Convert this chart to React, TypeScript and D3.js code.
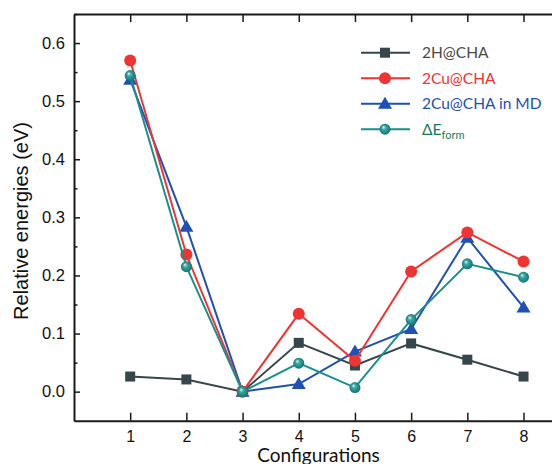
import React, { useEffect, useRef } from 'react';
import * as d3 from 'd3';

const configs = [1, 2, 3, 4, 5, 6, 7, 8];
const h2Cha = [0.026, 0.021, 0.0, 0.084, 0.045, 0.083, 0.055, 0.026];
const cu2Cha = [0.570, 0.236, 0.0, 0.134, 0.053, 0.207, 0.274, 0.224];
const cu2ChaMd = [0.537, 0.284, 0.0, 0.013, 0.069, 0.108, 0.265, 0.145];
const dEform = [0.544, 0.215, 0.0, 0.049, 0.007, 0.124, 0.220, 0.197];
const yTicks = [0.0, 0.1, 0.2, 0.3, 0.4, 0.5, 0.6];

const W = 552;
const H = 464;

const App = () => {
  const ref = useRef<SVGSVGElement>(null);

  useEffect(() => {
    const svg = d3.select(ref.current);
    svg.selectAll('*').remove();

    // scales (right edge of the frame is cut off in the original)
    const x = d3.scaleLinear().domain([0, 9]).range([74, 74 + 9 * 56.19]);
    const y = d3.scaleLinear().domain([-0.05, 0.65]).range([420.7, 14]);

    const defs = svg.append('defs');
    const grad = defs.append('radialGradient')
      .attr('id', 'sphere')
      .attr('cx', '50%').attr('cy', '50%').attr('r', '55%')
      .attr('fx', '35%').attr('fy', '30%');
    grad.append('stop').attr('offset', '0%').attr('stop-color', '#e8f6f5');
    grad.append('stop').attr('offset', '35%').attr('stop-color', '#3aa7a2');
    grad.append('stop').attr('offset', '100%').attr('stop-color', '#0d6f6b');

    const series = [
      { name: '2H@CHA', values: h2Cha, color: '#37464a', text: '#4a4a4a', marker: 'square' },
      { name: '2Cu@CHA in MD', values: cu2ChaMd, color: '#1f50b5', text: '#1f50b5', marker: 'triangle' },
      { name: '2Cu@CHA', values: cu2Cha, color: '#f03333', text: '#f03333', marker: 'circle' },
      { name: 'dE', values: dEform, color: '#17918b', text: '#177a5e', marker: 'sphere' },
    ];

    const drawMarker = (g, type, color, cx, cy) => {
      if (type === 'square') {
        g.append('rect')
          .attr('x', cx - 5).attr('y', cy - 5)
          .attr('width', 10).attr('height', 10)
          .attr('fill', color);
      } else if (type === 'triangle') {
        g.append('path')
          .attr('d', `M${cx},${cy - 7} L${cx + 7},${cy + 5} L${cx - 7},${cy + 5} Z`)
          .attr('fill', color);
      } else if (type === 'circle') {
        g.append('circle').attr('cx', cx).attr('cy', cy).attr('r', 6).attr('fill', color);
      } else {
        g.append('circle').attr('cx', cx).attr('cy', cy).attr('r', 5.5).attr('fill', 'url(#sphere)');
      }
    };

    const line = d3.line<number>()
      .x((d, i) => x(configs[i]))
      .y(d => y(d));

    series.forEach(s => {
      const g = svg.append('g');
      g.append('path')
        .attr('d', line(s.values))
        .attr('fill', 'none')
        .attr('stroke', s.color)
        .attr('stroke-width', 2);
      s.values.forEach((v, i) => drawMarker(g, s.marker, s.color, x(configs[i]), y(v)));
    });

    // axes
    const axisFont = '"Liberation Sans", Arial, sans-serif';

    const yAxis = svg.append('g')
      .attr('transform', `translate(${x(0)},0)`)
      .call(d3.axisLeft(y).tickValues(yTicks).tickFormat(d3.format('.1f'))
        .tickSizeInner(-6).tickSizeOuter(0).tickPadding(9));
    yAxis.selectAll('text').attr('font-size', 16.5).attr('font-family', axisFont).attr('fill', '#111');

    svg.append('g')
      .attr('transform', `translate(${x(0)},0)`)
      .call(d3.axisLeft(y).tickValues(yTicks.map(t => t + 0.05))
        .tickSizeInner(-3.5).tickSizeOuter(0).tickFormat(() => ''))
      .select('.domain').remove();

    const xAxis = svg.append('g')
      .attr('transform', `translate(0,${y(-0.05)})`)
      .call(d3.axisBottom(x).tickValues(configs).tickFormat(d3.format('d'))
        .tickSizeInner(-8).tickSizeOuter(0).tickPadding(9.5));
    xAxis.selectAll('text').attr('font-size', 16).attr('font-family', axisFont).attr('fill', '#111');

    svg.append('g')
      .attr('transform', `translate(0,${y(0.65)})`)
      .call(d3.axisTop(x).tickValues(configs).tickFormat(() => '')
        .tickSizeInner(-8).tickSizeOuter(0));

    svg.selectAll('.domain').attr('stroke', '#1a1a1a').attr('stroke-width', 2);
    svg.selectAll('.tick line').attr('stroke', '#1a1a1a').attr('stroke-width', 1.5);

    // axis titles
    svg.append('text')
      .attr('transform', `translate(28,221) rotate(-90)`)
      .attr('text-anchor', 'middle')
      .attr('font-family', axisFont)
      .attr('font-size', 20)
      .attr('fill', '#111')
      .text('Relative energies (eV)');

    svg.append('text')
      .attr('x', 318.5)
      .attr('y', 462)
      .attr('text-anchor', 'middle')
      .attr('font-family', 'Lato, sans-serif')
      .attr('font-size', 19)
      .attr('fill', '#111')
      .text('Configurations');

    // legend
    const legendOrder = [series[0], series[2], series[1], series[3]];
    const legend = svg.append('g').attr('font-family', 'Lato, sans-serif').attr('font-size', 15.5);
    legendOrder.forEach((s, i) => {
      const ly = 52.7 + i * 25.5;
      const row = legend.append('g');
      row.append('line')
        .attr('x1', 361).attr('x2', 410)
        .attr('y1', ly).attr('y2', ly)
        .attr('stroke', s.color).attr('stroke-width', 2);
      drawMarker(row, s.marker, s.color, 385, ly);
      const t = row.append('text')
        .attr('x', 422).attr('y', ly + 5.5)
        .attr('fill', s.text);
      if (s.name === 'dE') {
        t.append('tspan').text('ΔE');
        t.append('tspan').attr('font-size', 11).attr('dy', 4).text('form');
      } else {
        t.text(s.name);
      }
    });
  }, []);

  return (
    <svg
      ref={ref}
      width={W}
      height={H}
      style={{ position: 'absolute', left: 0, top: 0, background: '#fff' }}
    />
  );
};

export default App;
